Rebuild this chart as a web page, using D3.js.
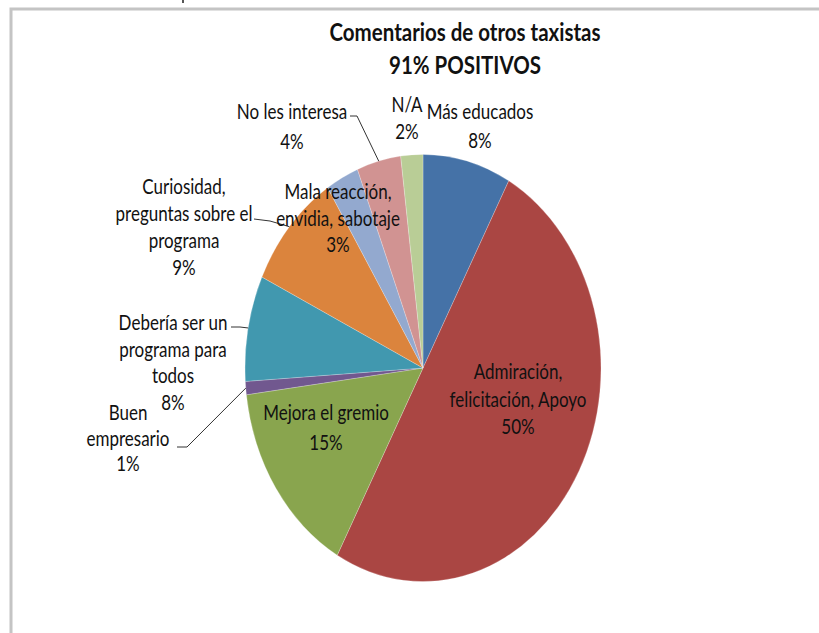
<!DOCTYPE html>
<html>
<head>
<meta charset="utf-8">
<script src="https://cdn.jsdelivr.net/npm/d3@7"></script>
<style>
  html, body { margin: 0; padding: 0; background: #fff; }
  svg { display: block; }
  text { font-family: "Lato", "Open Sans", sans-serif; fill: #111; }
</style>
</head>
<body>
<svg id="chart" width="819" height="633"></svg>
<script>
// ---- data ----
const categories = [
  "Más educados",
  "Admiración, felicitación, Apoyo",
  "Mejora el gremio",
  "Buen empresario",
  "Debería ser un programa para todos",
  "Curiosidad, preguntas sobre el programa",
  "Mala reacción, envidia, sabotaje",
  "No les interesa",
  "N/A"
];
const values = [8, 50, 15, 1, 8, 9, 3, 4, 2];
const labelLines = [
  ["Más educados"],
  ["Admiración,", "felicitación, Apoyo"],
  ["Mejora el gremio"],
  ["Buen", "empresario"],
  ["Debería ser un", "programa para", "todos"],
  ["Curiosidad,", "preguntas sobre el", "programa"],
  ["Mala reacción,", "envidia, sabotaje"],
  ["No les interesa"],
  ["N/A"]
];
const colors = ["#4572A7", "#AA4643", "#89A54E", "#71588F", "#4198AF", "#DB843D", "#93A9CF", "#D19392", "#B9CD96"];
const titleLines = ["Comentarios de otros taxistas", "91% POSITIVOS"];

// ---- layout ----
const W = 819, H = 633;
const cx = 423, cy = 368, r = 178, sy = 1.2;
// label anchor (center x, first line y) and line height
const labelPos = [
  [480, 112, 28.5], [518, 372, 27.5], [326, 413, 30], [128, 413, 25.5],
  [173, 323, 26.5], [184, 187, 27], [338, 192, 26.5], [292, 112, 30], [407, 105, 27]
];
// leader lines: label-side start and elbow points (null = none)
const leaderStart = [null, null, null, [177, 447], [231, 327], [254, 219], null, [350, 116], null];
const leaderElbow = [null, null, null, [187, 447], [240, 327], [270, 221], null, [357, 116], null];

const svg = d3.select("#chart");

// frame
svg.append("rect").attr("x", 11).attr("y", 9).attr("width", W + 20).attr("height", H + 20)
  .attr("fill", "none").attr("stroke", "#c4c4c4").attr("stroke-width", 3);
svg.append("rect").attr("x", 182).attr("y", 0).attr("width", 2).attr("height", 3).attr("fill", "#555");

// title
titleLines.forEach((t, i) => {
  svg.append("text")
    .attr("transform", `translate(465,${32 + i * 33}) scale(1,${sy})`)
    .attr("text-anchor", "middle").attr("dy", "0.35em")
    .style("font-weight", "bold").style("font-size", "20.5px")
    .text(t);
});

const pie = d3.pie().sort(null).value(d => d)(values);
const arc = d3.arc().innerRadius(0).outerRadius(r);
const edgeArc = d3.arc().innerRadius(r).outerRadius(r);

const g = svg.append("g").attr("transform", `translate(${cx},${cy}) scale(1,${sy})`);
g.selectAll("path").data(pie).join("path")
  .attr("d", arc)
  .attr("fill", (d, i) => colors[i])
  .attr("stroke", "rgba(255,255,255,0.35)")
  .attr("stroke-width", 0.6);

// leader lines
pie.forEach((d, i) => {
  if (!leaderStart[i]) return;
  const c = edgeArc.centroid(d);
  const px = cx + c[0], py = cy + c[1] * sy;
  svg.append("polyline")
    .attr("points", [leaderStart[i], leaderElbow[i], [px, py]].map(p => p.join(",")).join(" "))
    .attr("fill", "none").attr("stroke", "#333").attr("stroke-width", 1);
});

// labels
pie.forEach((d, i) => {
  const lines = labelLines[i].concat([Math.round(values[i]) + "%"]);
  const [x, y, lh] = labelPos[i];
  lines.forEach((t, j) => {
    svg.append("text")
      .attr("transform", `translate(${x},${y + j * lh}) scale(1,${sy})`)
      .attr("text-anchor", "middle").attr("dy", "0.35em")
      .style("font-size", "17px")
      .text(t);
  });
});
</script>
</body>
</html>
